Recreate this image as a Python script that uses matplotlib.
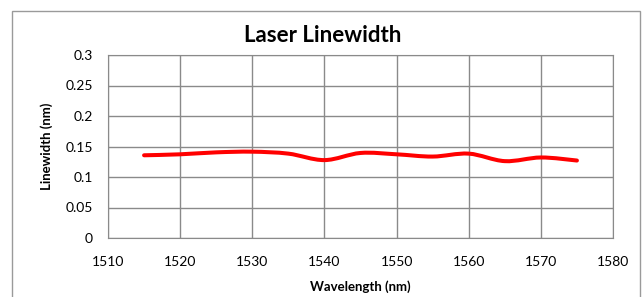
import numpy as np
import matplotlib
matplotlib.use("Agg")
import matplotlib.pyplot as plt
from matplotlib.path import Path
from matplotlib.patches import PathPatch, Rectangle

plt.rcParams['font.family'] = ['Lato', 'DejaVu Sans']

# data
wavelength = [1515, 1520, 1525, 1530, 1535, 1540, 1545, 1550, 1555, 1560, 1565, 1570, 1575]
linewidth = [0.1356, 0.1372, 0.1404, 0.1415, 0.1383, 0.1277, 0.1394, 0.1372, 0.1335, 0.1383, 0.126, 0.132, 0.127]
x_ticks = [1510, 1520, 1530, 1540, 1550, 1560, 1570, 1580]
y_ticks = [0, 0.05, 0.1, 0.15, 0.2, 0.25, 0.3]


def smooth_path(x, y, t=1/6):
    # excel style smoothed line: catmull-rom segments as cubic beziers
    x = np.asarray(x, float)
    y = np.asarray(y, float)
    px = np.concatenate([[x[0]], x, [x[-1]]])
    py = np.concatenate([[y[0]], y, [y[-1]]])
    verts = [(x[0], y[0])]
    codes = [Path.MOVETO]
    for i in range(1, len(px) - 2):
        c1 = (px[i] + (px[i + 1] - px[i - 1]) * t, py[i] + (py[i + 1] - py[i - 1]) * t)
        c2 = (px[i + 1] - (px[i + 2] - px[i]) * t, py[i + 1] - (py[i + 2] - py[i]) * t)
        verts += [c1, c2, (px[i + 1], py[i + 1])]
        codes += [Path.CURVE4] * 3
    return Path(verts, codes)


fig = plt.figure(figsize=(6.44, 2.97), dpi=100)
fig.patches.append(Rectangle((12 / 644, -0.05), 628 / 644, 1 - 11 / 297 + 0.05,
                             transform=fig.transFigure, fill=False,
                             edgecolor='#9a9a9a', linewidth=1))
ax = fig.add_axes([108 / 644, 1 - 238 / 297, 505 / 644, 183 / 297])

ax.add_patch(PathPatch(smooth_path(wavelength, linewidth), fill=False,
                       edgecolor='#ff0000', linewidth=2.9, capstyle='round'))

ax.set_xlim(1510, 1580)
ax.set_ylim(0, 0.3)
ax.set_xticks(x_ticks)
ax.set_yticks(y_ticks)
ax.set_yticklabels(['0', '0.05', '0.1', '0.15', '0.2', '0.25', '0.3'])
ax.grid(True, color='#8a8a8a', linewidth=1)
ax.set_axisbelow(True)
for s in ax.spines.values():
    s.set_color('#8a8a8a')
ax.tick_params(length=0, labelsize=10)
ax.tick_params(axis='x', pad=13)
ax.tick_params(axis='y', pad=11)

fig.text(323 / 644, 1 - 35 / 297, 'Laser Linewidth', fontsize=16, fontweight='bold',
         ha='center', va='center')
ax.set_xlabel('Wavelength (nm)', fontsize=9.5, fontweight='bold', labelpad=9)
ax.set_ylabel('Linewidth (nm)', fontsize=9.5, fontweight='bold', labelpad=9)

fig.savefig('out.png', dpi=100)
